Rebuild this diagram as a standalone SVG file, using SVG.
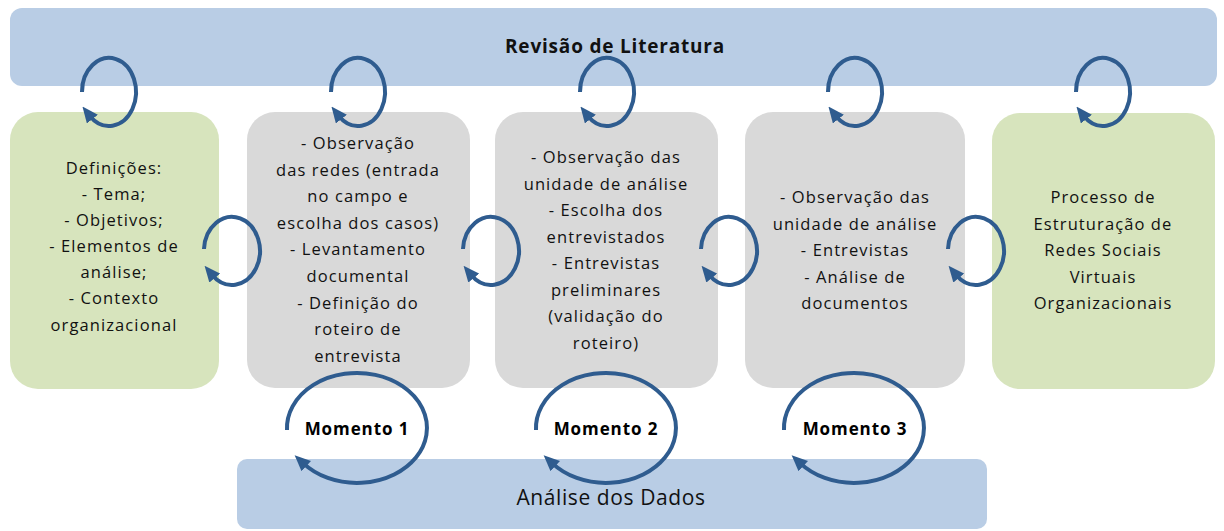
<svg xmlns="http://www.w3.org/2000/svg" width="1224" height="531" viewBox="0 0 1224 531">
<style>
.banner{fill:#b9cde5;}
.green{fill:#d7e4bd;}
.gray{fill:#d9d9d9;}
.t{font-family:"Open Sans","Liberation Sans",sans-serif;font-size:16.5px;letter-spacing:1.1px;fill:#111;text-anchor:middle;}
.title{font-family:"Open Sans","Liberation Sans",sans-serif;font-size:19px;letter-spacing:0.8px;font-weight:bold;fill:#111;text-anchor:middle;}
.sub{font-family:"Open Sans","Liberation Sans",sans-serif;font-size:21px;letter-spacing:0.6px;fill:#111;text-anchor:middle;}
.mom{font-family:"Open Sans","Liberation Sans",sans-serif;font-size:17px;letter-spacing:0.9px;font-weight:bold;fill:#000;text-anchor:middle;}
.arc{fill:none;stroke:#2f5c8f;stroke-width:4;marker-end:url(#ah);}
</style>
<defs>
<marker id="ah" markerUnits="userSpaceOnUse" markerWidth="16" markerHeight="14" refX="4" refY="7" orient="auto">
<path d="M0,0 L16,7 L0,14 z" fill="#2f5c8f"/>
</marker>
</defs>
<g id="revisao">
<rect class="banner" x="10" y="8" width="1207" height="78" rx="12"/>
<text class="title" x="615" y="53">Revisão de Literatura</text>
</g>
<g id="analise">
<rect class="banner" x="237" y="459" width="750" height="70" rx="10"/>
<text class="sub" x="611" y="505">Análise dos Dados</text>
</g>
<g id="definicoes">
<rect class="green" x="10" y="112" width="209" height="277" rx="28"/>
<text class="t" x="114" y="174">Definições:</text>
<text class="t" x="114" y="200">- Tema;</text>
<text class="t" x="114" y="226">- Objetivos;</text>
<text class="t" x="114" y="252">- Elementos de</text>
<text class="t" x="114" y="278">análise;</text>
<text class="t" x="114" y="304">- Contexto</text>
<text class="t" x="114" y="331">organizacional</text>
</g>
<g id="momento1box">
<rect class="gray" x="247" y="112" width="223" height="276" rx="28"/>
<text class="t" x="358" y="149">- Observação</text>
<text class="t" x="358" y="176">das redes (entrada</text>
<text class="t" x="358" y="202">no campo e</text>
<text class="t" x="358" y="229">escolha dos casos)</text>
<text class="t" x="358" y="255">- Levantamento</text>
<text class="t" x="358" y="282">documental</text>
<text class="t" x="358" y="309">- Definição do</text>
<text class="t" x="358" y="335">roteiro de</text>
<text class="t" x="358" y="362">entrevista</text>
</g>
<g id="momento2box">
<rect class="gray" x="495" y="112" width="223" height="276" rx="28"/>
<text class="t" x="606" y="163">- Observação das</text>
<text class="t" x="606" y="190">unidade de análise</text>
<text class="t" x="606" y="216">- Escolha dos</text>
<text class="t" x="606" y="243">entrevistados</text>
<text class="t" x="606" y="269">- Entrevistas</text>
<text class="t" x="606" y="296">preliminares</text>
<text class="t" x="606" y="322">(validação do</text>
<text class="t" x="606" y="349">roteiro)</text>
</g>
<g id="momento3box">
<rect class="gray" x="745" y="112" width="220" height="276" rx="28"/>
<text class="t" x="855" y="203">- Observação das</text>
<text class="t" x="855" y="230">unidade de análise</text>
<text class="t" x="855" y="256">- Entrevistas</text>
<text class="t" x="855" y="283">- Análise de</text>
<text class="t" x="855" y="309">documentos</text>
</g>
<g id="processo">
<rect class="green" x="992" y="113" width="223" height="276" rx="28"/>
<text class="t" x="1103" y="203">Processo de</text>
<text class="t" x="1103" y="230">Estruturação de</text>
<text class="t" x="1103" y="256">Redes Sociais</text>
<text class="t" x="1103" y="283">Virtuais</text>
<text class="t" x="1103" y="309">Organizacionais</text>
</g>
<g id="connectors">
<path class="arc" transform="translate(109,92)" d="M-27,0 A27 34 0 1 1 -19.1,24"/>
<path class="arc" transform="translate(358,92)" d="M-27,0 A27 34 0 1 1 -19.1,24"/>
<path class="arc" transform="translate(607,92)" d="M-27,0 A27 34 0 1 1 -19.1,24"/>
<path class="arc" transform="translate(855,92)" d="M-27,0 A27 34 0 1 1 -19.1,24"/>
<path class="arc" transform="translate(1103,92)" d="M-27,0 A27 34 0 1 1 -19.1,24"/>
<path class="arc" transform="translate(232,251)" d="M-28,-2 A28 34 0 1 1 -19.8,24"/>
<path class="arc" transform="translate(491,251)" d="M-28,-2 A28 34 0 1 1 -19.8,24"/>
<path class="arc" transform="translate(729,251)" d="M-28,-2 A28 34 0 1 1 -19.8,24"/>
<path class="arc" transform="translate(976,251)" d="M-28,-2 A28 34 0 1 1 -19.8,24"/>
<path class="arc" transform="translate(357,428)" d="M-70,2 A70 55 0 1 1 -53.6,35.4"/>
<path class="arc" transform="translate(606,428)" d="M-70,2 A70 55 0 1 1 -53.6,35.4"/>
<path class="arc" transform="translate(854,428)" d="M-70,2 A70 55 0 1 1 -53.6,35.4"/>
</g>
<g id="momentos">
<text class="mom" x="357" y="435">Momento 1</text>
<text class="mom" x="606" y="435">Momento 2</text>
<text class="mom" x="855" y="435">Momento 3</text>
</g>
</svg>
